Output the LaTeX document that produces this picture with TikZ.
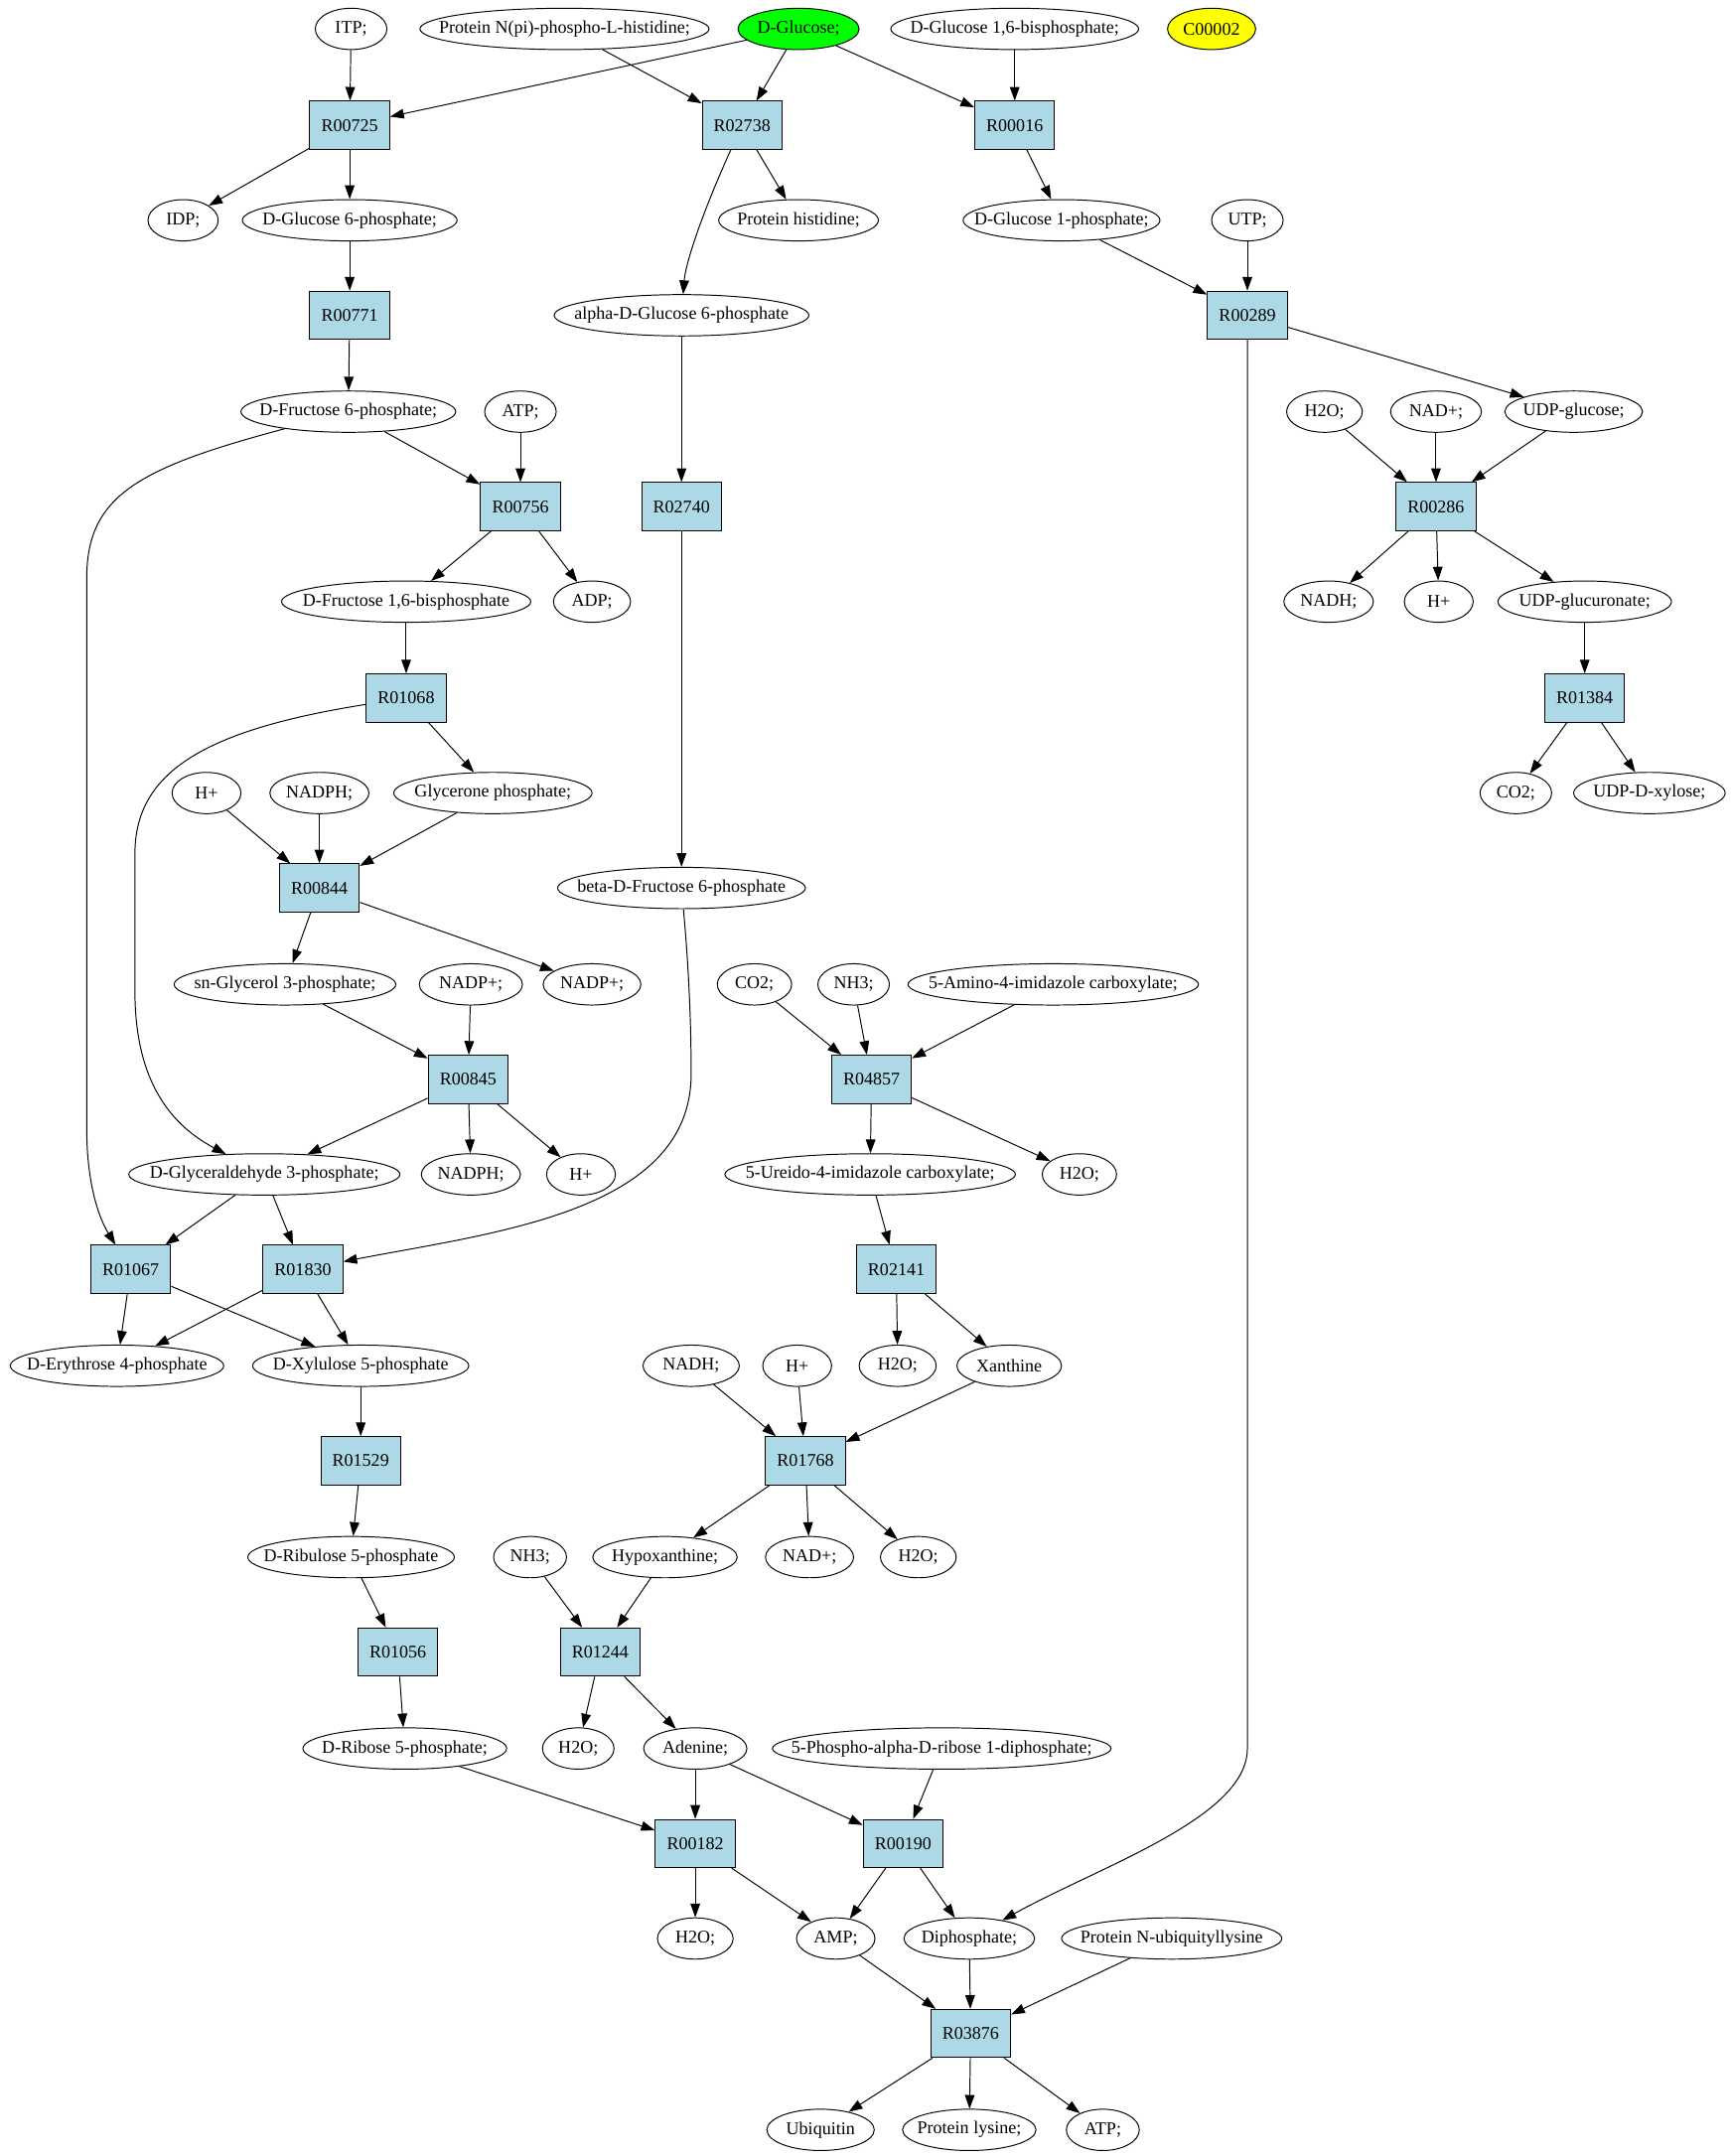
\documentclass[tikz,border=0pt]{standalone}
\usepackage{fontspec}
\setmainfont{Liberation Serif}
\usetikzlibrary{shapes.geometric, arrows.meta}
\definecolor{rxnblue}{RGB}{173,216,230}
\definecolor{glcgreen}{RGB}{0,255,0}
\definecolor{cpdyellow}{RGB}{255,255,0}
\tikzset{
    comp/.style={ellipse, draw, line width=0.7pt, inner sep=0pt, minimum height=30, minimum width=#1,
        execute at begin node={\hbox to 0pt\bgroup\hss}, execute at end node={\hss\egroup}},
    comp/.default=51,
    rxn/.style={rectangle, draw, line width=0.7pt, fill=rxnblue, minimum width=58, minimum height=35, inner sep=0pt},
    flow/.style={-{Triangle[length=10pt,width=7pt]}, line width=0.7pt}
}

\begin{document}
\begin{tikzpicture}[x=1pt, y=-1pt, font=\fontsize{13pt}{16pt}\selectfont]
            \useasboundingbox (0,0) rectangle (1257,1566);
            % compounds and reactions, row by row
            \node[comp=52] (itp) at (255,21) {ITP;};
            \node[comp=210] (pnph) at (410,21) {Protein N(pi)-phospho-L-histidine;};
            \node[comp=88, fill=glcgreen] (glc) at (580,21) {D-Glucose;};
            \node[comp=180] (g16bp) at (737,21) {D-Glucose 1,6-bisphosphate;};
            \node[comp=64, fill=cpdyellow] (c00002) at (880,21) {C00002};
            \node[rxn] (r00725) at (254,91) {R00725};
            \node[rxn] (r02738) at (539,91) {R02738};
            \node[rxn] (r00016) at (737,91) {R00016};
            \node[comp=51] (idp) at (133,160) {IDP;};
            \node[comp=156] (g6p) at (254,160) {D-Glucose 6-phosphate;};
            \node[comp=116] (phis) at (580,160) {Protein histidine;};
            \node[comp=143] (g1p) at (771,160) {D-Glucose 1-phosphate;};
            \node[comp=52] (utp) at (906,160) {UTP;};
            \node[rxn] (r00771) at (254,229) {R00771};
            \node[comp=185] (ag6p) at (495,229) {alpha-D-Glucose 6-phosphate};
            \node[rxn] (r00289) at (906,229) {R00289};
            \node[comp=156] (f6p) at (253,299) {D-Fructose 6-phosphate;};
            \node[comp=52] (atpA) at (378,299) {ATP;};
            \node[comp=55] (h2oA) at (962,299) {H2O;};
            \node[comp=66] (nadA) at (1043,299) {NAD+;};
            \node[comp=100] (udpg) at (1143,299) {UDP-glucose;};
            \node[rxn] (r00756) at (378,368) {R00756};
            \node[rxn] (r02740) at (495,368) {R02740};
            \node[rxn] (r00286) at (1043,368) {R00286};
            \node[comp=181] (f16bp) at (295,437) {D-Fructose 1,6-bisphosphate};
            \node[comp=56] (adp) at (430,437) {ADP;};
            \node[comp=65] (nadhA) at (965,437) {NADH;};
            \node[comp=50] (hA) at (1045,437) {H+};
            \node[comp=126] (udpgl) at (1151,437) {UDP-glucuronate;};
            \node[rxn] (r01068) at (295,507) {R01068};
            \node[rxn] (r01384) at (1151,507) {R01384};
            \node[comp=50] (hB) at (150,576) {H+};
            \node[comp=72] (nadphA) at (232,576) {NADPH;};
            \node[comp=144] (gnp) at (358,576) {Glycerone phosphate;};
            \node[comp=52] (co2A) at (1101,576) {CO2;};
            \node[comp=110] (udpx) at (1198,576) {UDP-D-xylose;};
            \node[rxn] (r00844) at (232,645) {R00844};
            \node[comp=180] (bf6p) at (495,645) {beta-D-Fructose 6-phosphate};
            \node[comp=161] (sng3p) at (207,715) {sn-Glycerol 3-phosphate;};
            \node[comp=75] (nadpA) at (342,715) {NADP+;};
            \node[comp=71] (nadpB) at (430,715) {NADP+;};
            \node[comp=54] (co2B) at (548,715) {CO2;};
            \node[comp=52] (nh3A) at (620,715) {NH3;};
            \node[comp=211] (aic) at (765,715) {5-Amino-4-imidazole carboxylate;};
            \node[rxn] (r00845) at (340,784) {R00845};
            \node[rxn] (r04857) at (633,784) {R04857};
            \node[comp=197] (gap) at (192,853) {D-Glyceraldehyde 3-phosphate;};
            \node[comp=72] (nadphB) at (342,853) {NADPH;};
            \node[comp=50] (hC) at (422,853) {H+};
            \node[comp=211] (uic) at (632,853) {5-Ureido-4-imidazole carboxylate;};
            \node[comp=54] (h2oB) at (784,853) {H2O;};
            \node[rxn] (r01067) at (95,922) {R01067};
            \node[rxn] (r01830) at (220,922) {R01830};
            \node[rxn] (r02141) at (651,922) {R02141};
            \node[comp=155] (e4p) at (85,992) {D-Erythrose 4-phosphate};
            \node[comp=157] (xu5p) at (262,992) {D-Xylulose 5-phosphate};
            \node[comp=70] (nadhB) at (502,992) {NADH;};
            \node[comp=50] (hD) at (579,992) {H+};
            \node[comp=56] (h2oC) at (652,992) {H2O;};
            \node[comp=76] (xan) at (733,992) {Xanthine};
            \node[rxn] (r01529) at (262,1061) {R01529};
            \node[rxn] (r01768) at (585,1061) {R01768};
            \node[comp=150] (ru5p) at (255,1131) {D-Ribulose 5-phosphate};
            \node[comp=53] (nh3B) at (385,1131) {NH3;};
            \node[comp=105] (hyp) at (483,1131) {Hypoxanthine;};
            \node[comp=64] (nadB) at (588,1131) {NAD+;};
            \node[comp=55] (h2oD) at (667,1131) {H2O;};
            \node[rxn] (r01056) at (289,1200) {R01056};
            \node[rxn] (r01244) at (436,1200) {R01244};
            \node[comp=148] (r5p) at (294,1270) {D-Ribose 5-phosphate;};
            \node[comp=52] (h2oE) at (420,1270) {H2O;};
            \node[comp=75] (ade) at (505,1270) {Adenine;};
            \node[comp=246] (prpp) at (684,1270) {5-Phospho-alpha-D-ribose 1-diphosphate;};
            \node[rxn] (r00182) at (505,1339) {R00182};
            \node[rxn] (r00190) at (656,1339) {R00190};
            \node[comp=55] (h2oF) at (505,1408) {H2O;};
            \node[comp=57] (amp) at (607,1408) {AMP;};
            \node[comp=95] (ppi) at (704,1408) {Diphosphate;};
            \node[comp=160] (pnub) at (851,1408) {Protein N-ubiquityllysine};
            \node[rxn] (r03876) at (705,1477) {R03876};
            \node[comp=78] (ubq) at (596,1547) {Ubiquitin};
            \node[comp=97] (plys) at (704,1547) {Protein lysine;};
            \node[comp=53] (atpB) at (801,1547) {ATP;};
            % edges
            \draw[flow] (itp)--(r00725);
            \draw[flow] (glc)--(r00725);
            \draw[flow] (pnph)--(r02738);
            \draw[flow] (glc)--(r02738);
            \draw[flow] (glc)--(r00016);
            \draw[flow] (g16bp)--(r00016);
            \draw[flow] (r00725)--(idp);
            \draw[flow] (r00725)--(g6p);
            \draw[flow] (r02738)--(phis);
            \draw[flow] (r02738) .. controls (512,150) and (498,190) .. (ag6p);
            \draw[flow] (r00016)--(g1p);
            \draw[flow] (g6p)--(r00771);
            \draw[flow] (g1p)--(r00289);
            \draw[flow] (utp)--(r00289);
            \draw[flow] (r00771)--(f6p);
            \draw[flow] (ag6p)--(r02740);
            \draw[flow] (r00289)--(udpg);
            \draw[flow] (r00289)--(906,1270) .. controls (906,1320) and (800,1355) .. (ppi);
            \draw[flow] (f6p)--(r00756);
            \draw[flow] (atpA)--(r00756);
            \draw[flow] (f6p) .. controls (100,340) and (63,360) .. (63,420)--(63,820) .. controls (63,860) and (72,885) .. (r01067);
            \draw[flow] (h2oA)--(r00286);
            \draw[flow] (nadA)--(r00286);
            \draw[flow] (udpg)--(r00286);
            \draw[flow] (r00756)--(f16bp);
            \draw[flow] (r00756)--(adp);
            \draw[flow] (r02740)--(bf6p);
            \draw[flow] (r00286)--(nadhA);
            \draw[flow] (r00286)--(hA);
            \draw[flow] (r00286)--(udpgl);
            \draw[flow] (f16bp)--(r01068);
            \draw[flow] (udpgl)--(r01384);
            \draw[flow] (r01068)--(gnp);
            \draw[flow] (r01068) .. controls (150,530) and (98,560) .. (98,620)--(98,720) .. controls (98,780) and (120,815) .. (gap);
            \draw[flow] (r01384)--(co2A);
            \draw[flow] (r01384)--(udpx);
            \draw[flow] (hB)--(r00844);
            \draw[flow] (nadphA)--(r00844);
            \draw[flow] (gnp)--(r00844);
            \draw[flow] (r00844)--(sng3p);
            \draw[flow] (r00844)--(nadpB);
            \draw[flow] (bf6p) .. controls (500,700) and (502,740) .. (502,780) .. controls (502,880) and (360,895) .. (r01830);
            \draw[flow] (sng3p)--(r00845);
            \draw[flow] (nadpA)--(r00845);
            \draw[flow] (co2B)--(r04857);
            \draw[flow] (nh3A)--(r04857);
            \draw[flow] (aic)--(r04857);
            \draw[flow] (r00845)--(gap);
            \draw[flow] (r00845)--(nadphB);
            \draw[flow] (r00845)--(hC);
            \draw[flow] (r04857)--(uic);
            \draw[flow] (r04857)--(h2oB);
            \draw[flow] (gap)--(r01067);
            \draw[flow] (gap)--(r01830);
            \draw[flow] (uic)--(r02141);
            \draw[flow] (r01067)--(e4p);
            \draw[flow] (r01067)--(xu5p);
            \draw[flow] (r01830)--(e4p);
            \draw[flow] (r01830)--(xu5p);
            \draw[flow] (r02141)--(h2oC);
            \draw[flow] (r02141)--(xan);
            \draw[flow] (xu5p)--(r01529);
            \draw[flow] (nadhB)--(r01768);
            \draw[flow] (hD)--(r01768);
            \draw[flow] (xan)--(r01768);
            \draw[flow] (r01529)--(ru5p);
            \draw[flow] (r01768)--(hyp);
            \draw[flow] (r01768)--(nadB);
            \draw[flow] (r01768)--(h2oD);
            \draw[flow] (ru5p)--(r01056);
            \draw[flow] (nh3B)--(r01244);
            \draw[flow] (hyp)--(r01244);
            \draw[flow] (r01056)--(r5p);
            \draw[flow] (r01244)--(h2oE);
            \draw[flow] (r01244)--(ade);
            \draw[flow] (r5p)--(r00182);
            \draw[flow] (ade)--(r00182);
            \draw[flow] (ade)--(r00190);
            \draw[flow] (prpp)--(r00190);
            \draw[flow] (r00182)--(h2oF);
            \draw[flow] (r00182)--(amp);
            \draw[flow] (r00190)--(amp);
            \draw[flow] (r00190)--(ppi);
            \draw[flow] (amp)--(r03876);
            \draw[flow] (ppi)--(r03876);
            \draw[flow] (pnub)--(r03876);
            \draw[flow] (r03876)--(ubq);
            \draw[flow] (r03876)--(plys);
            \draw[flow] (r03876)--(atpB);
\end{tikzpicture}
\end{document}
